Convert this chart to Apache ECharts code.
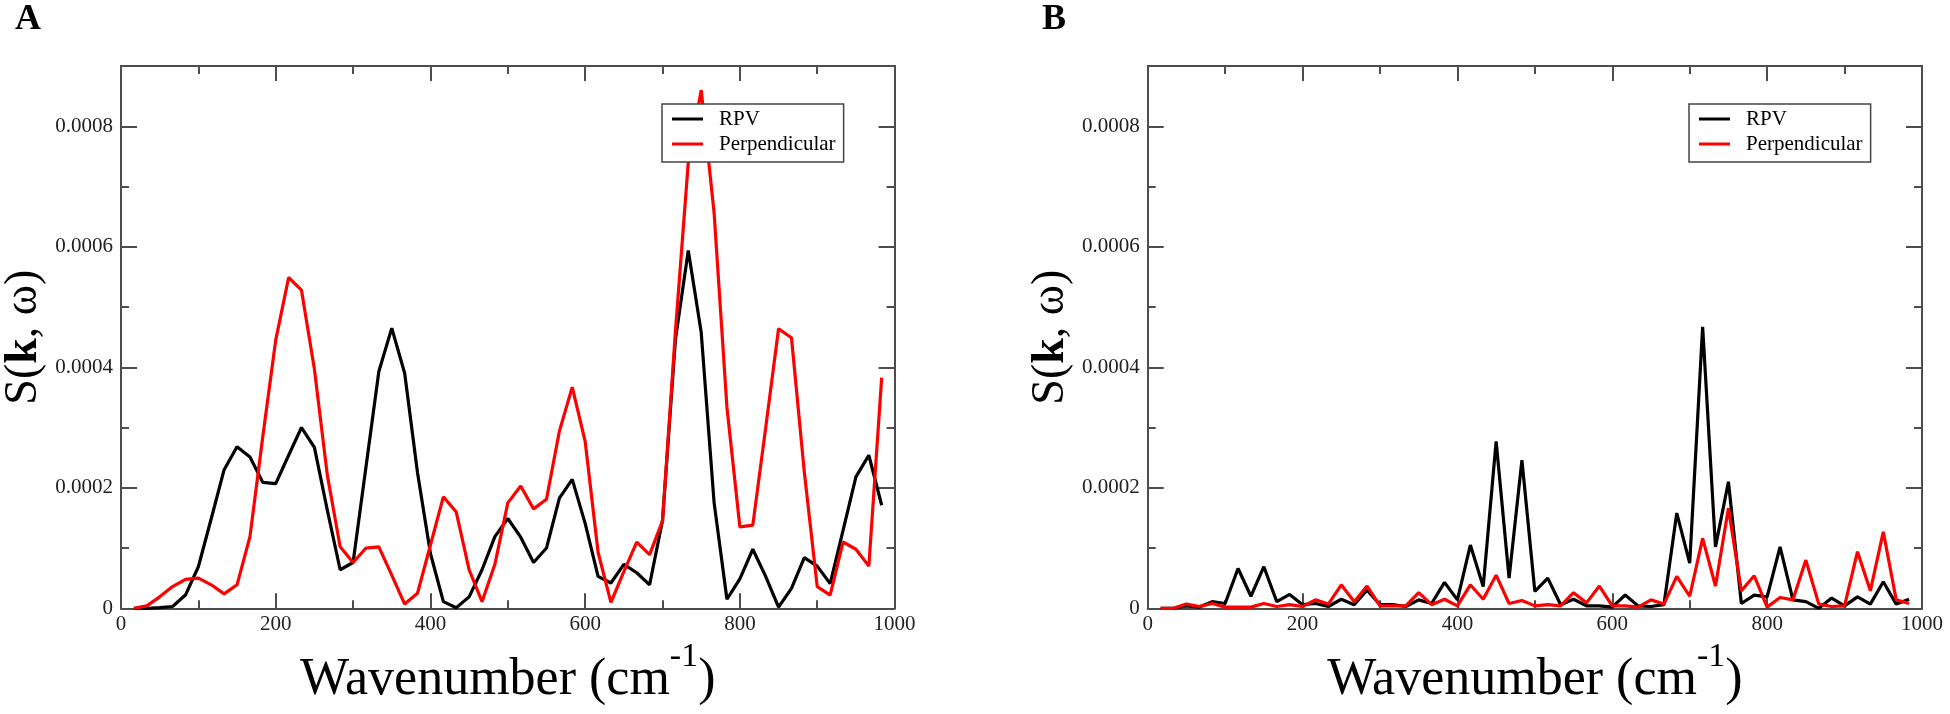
<!DOCTYPE html>
<html><head><meta charset="utf-8">
<script src="https://cdn.jsdelivr.net/npm/echarts@6/dist/echarts.min.js"></script>
<style>html,body{margin:0;padding:0;background:#fff}#c{width:1950px;height:714px}</style>
</head><body><div id="c"></div>
<script>
// Wavenumber samples (cm^-1)
const wavenumber = [16.7, 33.3, 50, 66.7, 83.3, 100, 116.7, 133.3, 150, 166.7, 183.3, 200, 216.7, 233.3, 250, 266.7, 283.3, 300, 316.7, 333.3, 350, 366.7, 383.3, 400, 416.7, 433.3, 450, 466.7, 483.3, 500, 516.7, 533.3, 550, 566.7, 583.3, 600, 616.7, 633.3, 650, 666.7, 683.3, 700, 716.7, 733.3, 750, 766.7, 783.3, 800, 816.7, 833.3, 850, 866.7, 883.3, 900, 916.7, 933.3, 950, 966.7, 983.3];
// S(k, w) values, in units of 1e-4
const rpvA = [0, 0, 0.01, 0.03, 0.22, 0.69, 1.49, 2.30, 2.68, 2.51, 2.09, 2.07, 2.54, 3.00, 2.67, 1.63, 0.64, 0.76, 2.35, 3.93, 4.65, 3.90, 2.25, 0.91, 0.11, 0.01, 0.19, 0.64, 1.19, 1.49, 1.18, 0.76, 1.00, 1.83, 2.14, 1.41, 0.53, 0.42, 0.73, 0.59, 0.39, 1.46, 4.46, 5.94, 4.58, 1.75, 0.15, 0.49, 0.98, 0.53, 0.02, 0.33, 0.84, 0.70, 0.41, 1.29, 2.18, 2.54, 1.71];
const perpA = [0, 0.04, 0.19, 0.36, 0.48, 0.50, 0.39, 0.24, 0.39, 1.19, 2.85, 4.45, 5.49, 5.28, 3.97, 2.21, 1.02, 0.76, 1.00, 1.02, 0.55, 0.07, 0.25, 1.05, 1.85, 1.60, 0.64, 0.11, 0.73, 1.75, 2.03, 1.65, 1.81, 2.94, 3.67, 2.77, 0.93, 0.10, 0.61, 1.10, 0.89, 1.45, 4.60, 7.40, 8.60, 6.56, 3.33, 1.35, 1.38, 2.99, 4.64, 4.49, 2.26, 0.36, 0.22, 1.10, 0.98, 0.70, 3.83];
const rpvB = [0, 0, 0.04, 0.02, 0.11, 0.08, 0.66, 0.20, 0.69, 0.11, 0.23, 0.06, 0.08, 0.03, 0.15, 0.06, 0.30, 0.06, 0.06, 0.03, 0.14, 0.08, 0.43, 0.14, 1.05, 0.36, 2.77, 0.50, 2.46, 0.28, 0.50, 0.06, 0.15, 0.04, 0.04, 0.02, 0.22, 0.04, 0.03, 0.06, 1.58, 0.75, 4.67, 1.02, 2.10, 0.08, 0.22, 0.19, 1.02, 0.14, 0.11, 0, 0.17, 0.04, 0.19, 0.07, 0.44, 0.07, 0.15];
const perpB = [0, 0, 0.07, 0.03, 0.08, 0.02, 0.02, 0.02, 0.08, 0.03, 0.06, 0.03, 0.14, 0.07, 0.39, 0.11, 0.37, 0.04, 0.04, 0.04, 0.26, 0.06, 0.15, 0.04, 0.39, 0.15, 0.55, 0.08, 0.13, 0.04, 0.06, 0.04, 0.26, 0.09, 0.37, 0.04, 0.04, 0.02, 0.14, 0.07, 0.53, 0.20, 1.16, 0.37, 1.66, 0.29, 0.54, 0.02, 0.18, 0.14, 0.80, 0.07, 0.03, 0.04, 0.94, 0.29, 1.27, 0.14, 0.08];
const seriesNames = ['RPV', 'Perpendicular'];
const xTickLabels = ['0', '200', '400', '600', '800', '1000'];
const yTickLabels = ['0', '0.0002', '0.0004', '0.0006', '0.0008'];
const panelLabels = ['A', 'B'];

const FONT = '"Liberation Serif", "Times New Roman", serif';
const AX = '#4d4d4d';
const UNIT = 1e-4;

function pairs(vals) { return wavenumber.map((w, i) => [w, vals[i] * UNIT]); }

const grids = [
  { left: 120, top: 66, width: 774.6, height: 542.3 },
  { left: 1147.7, top: 66, width: 774.3, height: 542.3 }
];

function xAx(g, pos, labels) {
  return {
    type: 'value', gridIndex: g, position: pos, min: 0, max: 1000, interval: 200,
    axisLine: { show: true, onZero: false, lineStyle: { color: AX, width: 2 } },
    axisTick: { show: true, inside: true, length: 15, lineStyle: { color: AX, width: 2 } },
    minorTick: { show: true, splitNumber: 2, length: 8, lineStyle: { color: AX, width: 2 } },
    splitLine: { show: false }, minorSplitLine: { show: false },
    axisLabel: { show: labels, margin: 6, color: '#222', fontFamily: FONT, fontSize: 21,
      formatter: v => xTickLabels[Math.round(v / 200)] },
    name: labels ? '{t|Wavenumber (cm}{s|-1}{t|)}' : '',
    nameLocation: 'middle', nameGap: 29,
    nameTextStyle: { rich: {
      t: { fontFamily: FONT, fontSize: 52, lineHeight: 80, color: '#000' },
      s: { fontFamily: FONT, fontSize: 34, lineHeight: 34, verticalAlign: 'top', color: '#000' }
    } }
  };
}
function yAx(g, pos, major, labels) {
  return {
    type: 'value', gridIndex: g, position: pos, min: 0, max: 0.0009,
    interval: major ? 0.0002 : 0.0001,
    axisLine: { show: true, onZero: false, lineStyle: { color: AX, width: 2 } },
    axisTick: { show: true, inside: true, length: major ? 16 : 8, lineStyle: { color: AX, width: 2 } },
    splitLine: { show: false },
    axisLabel: { show: labels, showMaxLabel: false, margin: 8, color: '#222', fontFamily: FONT, fontSize: 21,
      formatter: v => { const i = Math.round(v / 0.0002); return Math.abs(v - i * 0.0002) < 1e-9 ? (yTickLabels[i] || '') : ''; } },
    name: labels ? '{a|S(}{b|k}{a|, ω)}' : '',
    nameLocation: 'middle', nameGap: 74, nameRotate: 90,
    nameTextStyle: { rich: {
      a: { fontFamily: FONT, fontSize: 46, color: '#000' },
      b: { fontFamily: FONT, fontSize: 46, fontWeight: 'bold', color: '#000' }
    } }
  };
}

const xAxes = [xAx(0, 'bottom', true), xAx(0, 'top', false), xAx(1, 'bottom', true), xAx(1, 'top', false)];
const yAxes = [
  yAx(0, 'left', true, true), yAx(0, 'left', false, false), yAx(0, 'right', true, false), yAx(0, 'right', false, false),
  yAx(1, 'left', true, true), yAx(1, 'left', false, false), yAx(1, 'right', true, false), yAx(1, 'right', false, false)
];

function legendAt(left) {
  return {
    left: left, top: 104, orient: 'vertical', data: seriesNames, selectedMode: false,
    icon: 'rect', itemWidth: 31, itemHeight: 3, itemGap: 3,
    padding: [4, 8, 7, 10], borderColor: '#444', borderWidth: 1.5, backgroundColor: '#fff',
    textStyle: { fontFamily: FONT, fontSize: 21, color: '#000', lineHeight: 22, padding: [0, 0, 0, 11] }
  };
}

function line(name, vals, xi, yi, color) {
  return { name: name, type: 'line', xAxisIndex: xi, yAxisIndex: yi, data: pairs(vals),
    showSymbol: false, symbol: 'none', lineStyle: { color: color, width: 3.2 }, itemStyle: { color: color } };
}

const option = {
  animation: false,
  backgroundColor: '#fff',
  grid: grids,
  xAxis: xAxes,
  yAxis: yAxes,
  legend: [legendAt(662), legendAt(1689)],
  graphic: [
    { type: 'text', style: { x: 15, y: 20, text: panelLabels[0], font: 'bold 36px "Liberation Serif"', fill: '#000', verticalAlign: 'middle' } },
    { type: 'text', style: { x: 1042, y: 20, text: panelLabels[1], font: 'bold 36px "Liberation Serif"', fill: '#000', verticalAlign: 'middle' } }
  ],
  series: [
    line(seriesNames[0], rpvA, 0, 0, '#000000'),
    line(seriesNames[1], perpA, 0, 0, '#ff0000'),
    line(seriesNames[0], rpvB, 2, 4, '#000000'),
    line(seriesNames[1], perpB, 2, 4, '#ff0000')
  ]
};
const chart = echarts.init(document.getElementById('c'), null, { renderer: 'canvas' });
chart.setOption(option);
</script></body></html>
